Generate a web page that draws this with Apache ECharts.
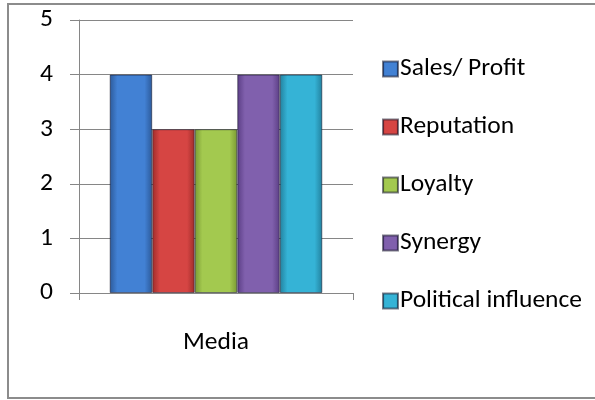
<!DOCTYPE html>
<html>
<head>
<meta charset="utf-8">
<script src="https://cdn.jsdelivr.net/npm/echarts@6/dist/echarts.min.js"></script>
<style>
  html, body { margin: 0; padding: 0; background: #ffffff; }
  #chart { width: 595px; height: 400px; }
</style>
</head>
<body>
<div id="chart"></div>
<script>
// Scores per motive for the "Media" category
const categories = ['Media'];
const seriesNames = ['Sales/ Profit', 'Reputation', 'Loyalty', 'Synergy', 'Political influence'];
const salesProfit = [4];
const reputation = [3];
const loyalty = [3];
const synergy = [4];
const politicalInfluence = [4];
const yTicks = [0, 1, 2, 3, 4, 5];

const seriesValues = [salesProfit, reputation, loyalty, synergy, politicalInfluence];

// Edge / centre colours for each bar (horizontal shading)
const palette = [
  { edge: '#2c5a9a', mid: '#4281d4' },
  { edge: '#9e2c2a', mid: '#d64543' },
  { edge: '#7a9a33', mid: '#a3c94f' },
  { edge: '#5b3e85', mid: '#8060ad' },
  { edge: '#22819e', mid: '#35b3d6' }
];

function shade(c) {
  return new echarts.graphic.LinearGradient(0, 0, 1, 0, [
    { offset: 0, color: c.edge },
    { offset: 0.18, color: c.mid },
    { offset: 0.82, color: c.mid },
    { offset: 1, color: c.edge }
  ]);
}

const FONT = 'Carlito, Lato, sans-serif';
const FS = 25.5;

const chart = echarts.init(document.getElementById('chart'), null, { renderer: 'canvas' });

chart.setOption({
  animation: false,
  backgroundColor: '#ffffff',
  textStyle: { fontFamily: FONT, color: '#000000' },
  graphic: [{
    type: 'rect',
    shape: { x: 8, y: 4, width: 600, height: 394 },
    style: { fill: 'none', stroke: '#8c8c8c', lineWidth: 2 },
    silent: true
  }],
  grid: { left: 79, right: 242, top: 20, bottom: 107, containLabel: false },
  legend: {
    orient: 'vertical',
    left: 377,
    top: 51,
    itemWidth: 15,
    itemHeight: 15,
    itemGap: 32,
    icon: 'rect',
    data: seriesNames,
    textStyle: { fontFamily: FONT, fontSize: FS, color: '#000000', lineHeight: 25, padding: [0, 0, 0, -3] }
  },
  xAxis: {
    type: 'category',
    data: categories,
    boundaryGap: true,
    axisLine: { lineStyle: { color: '#868686', width: 1 } },
    axisTick: { show: true, length: 7, lineStyle: { color: '#868686' } },
    axisLabel: { fontFamily: FONT, fontSize: FS, color: '#000000', margin: 37 },
    splitLine: { show: false }
  },
  yAxis: {
    type: 'value',
    min: yTicks[0],
    max: yTicks[yTicks.length - 1],
    interval: 1,
    axisLine: { show: true, lineStyle: { color: '#868686', width: 1 } },
    axisTick: { show: true, length: 9, inside: false, lineStyle: { color: '#868686' } },
    axisLabel: { fontFamily: FONT, fontSize: FS, color: '#000000', margin: 26 },
    splitLine: { show: true, lineStyle: { color: '#868686', width: 1 } }
  },
  series: seriesNames.map((name, i) => ({
    name: name,
    type: 'bar',
    data: seriesValues[i],
    barGap: '0%',
    barCategoryGap: '22.4%',
    itemStyle: {
      color: shade(palette[i]),
      borderColor: 'rgba(20,20,40,0.55)',
      borderWidth: 1
    }
  }))
});
</script>
</body>
</html>
